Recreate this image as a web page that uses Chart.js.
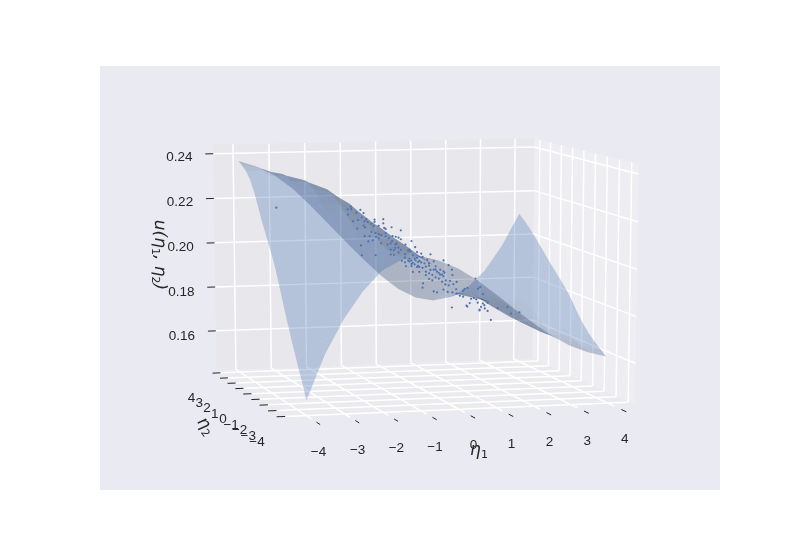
<!DOCTYPE html>
<html lang="en">
<head>
<meta charset="UTF-8">
<title>u surface</title>
<style>body{margin:0;background:#fff}</style>
</head>
<body>
<canvas id="mycanvas" width="800" height="550"></canvas>
<script src="https://cdn.jsdelivr.net/npm/chart.js"></script>
<script>
const eta1Ticks=[-4,-3,-2,-1,0,1,2,3,4];
const eta2Ticks=[-4,-3,-2,-1,0,1,2,3,4];
const uTicks=[0.16,0.18,0.20,0.22,0.24];

// surface, u*10000, one row per eta2 value
const surfaceEta1=[-3.95,-3.453,-2.956,-2.459,-1.963,-1.466,-0.969,-0.472,0.025,0.522,1.019,1.516,2.013,2.509,3.006,3.503,4];
const surfaceEta2=[-3.8,-3.306,-2.813,-2.319,-1.825,-1.331,-0.838,-0.344,0.15,0.644,1.138,1.631,2.125,2.619,3.113,3.606,4.1];
const row0=[1478,1672,1818,1930,2013,2055,2063,2047,2012,1961,1900,1835,1772,1715,1670,1638,1617];
const row1=[1548,1727,1859,1959,2031,2064,2064,2043,2004,1950,1889,1825,1766,1714,1675,1651,1638];
const row2=[1611,1775,1895,1983,2044,2067,2061,2035,1992,1937,1876,1814,1759,1712,1679,1663,1660];
const row3=[1677,1826,1933,2009,2059,2074,2061,2030,1984,1927,1865,1806,1754,1713,1686,1678,1685];
const row4=[1747,1881,1976,2041,2080,2086,2066,2030,1980,1922,1861,1804,1756,1720,1700,1700,1716];
const row5=[1820,1941,2024,2077,2106,2104,2078,2036,1983,1923,1863,1808,1764,1734,1721,1730,1755];
const row6=[1897,2004,2075,2119,2138,2127,2094,2047,1990,1928,1868,1815,1776,1751,1745,1762,1798];
const row7=[1970,2064,2125,2160,2169,2151,2110,2056,1994,1929,1869,1819,1783,1764,1765,1790,1836];
const row8=[2032,2114,2166,2193,2195,2168,2120,2059,1991,1923,1863,1815,1783,1770,1778,1812,1868];
const row9=[2084,2155,2200,2220,2216,2182,2126,2057,1983,1912,1851,1806,1779,1772,1788,1831,1898];
const row10=[2138,2197,2235,2249,2237,2196,2132,2055,1976,1902,1841,1798,1776,1775,1798,1851,1928];
const row11=[2199,2245,2272,2277,2257,2207,2136,2054,1970,1894,1834,1794,1776,1781,1811,1874,1960];
const row12=[2259,2291,2305,2297,2266,2208,2132,2047,1961,1885,1826,1789,1776,1787,1825,1896,1993];
const row13=[2307,2323,2322,2300,2256,2190,2111,2026,1942,1868,1812,1779,1772,1789,1835,1916,2024];
const row14=[2338,2339,2323,2286,2230,2157,2076,1993,1912,1841,1790,1763,1762,1787,1842,1933,2053];
const row15=[2357,2344,2314,2264,2197,2119,2036,1954,1876,1809,1763,1741,1747,1781,1845,1948,2080];
const row16=[2371,2345,2304,2243,2166,2081,1997,1915,1838,1774,1732,1716,1729,1770,1845,1958,2103];
const surfaceRows=[row0,row1,row2,row3,row4,row5,row6,row7,row8,row9,row10,row11,row12,row13,row14,row15,row16];

// scatter of samples
const cloudEta1=[-1.54,-1.47,-1.46,-1.26,-1.35,-1.19,-1.53,-1.42,-1.31,-1.17,-1.10,-.95,-.76,-.95,-.76,-.97,-.86,-1.33,-1.19,-1.16,-1.02,-.93,-.86,-.71,-.58,-.38,-.81,-1.17,-.99,-.92,-.71,-.86,-.49,-.43,-.38,-.56,-1.09,-.15,-.28,-.60,-.50,-.07,-1.25,-.60,-.43,-.53,-.38,-.19,-.17,-.29,-.60,-.53,-.93,-1.23,.06,.26,.09,-.12,-.03,-.19,.19,.02,.23,.33,.54,-.19,-.12,-.01,.06,-.27,-.15,-.03,.09,.23,.37,.47,.54,.65,.72,-.12,.02,.16,.23,.30,.37,.44,.54,.59,.73,.23,.10,.09,.58,.65,.75,.81,.54,.33,.40,.63,.73,.82,.89,.96,.99,1.05,.96,1.22,1.32,1.28,1.38,1.19,1.24,1.03,1.10,1.27,1.38,1.48,1.41,1.34,.72,1.05,1.31,1.42,1.69,1.90,2.15,1.55,1.97,1.13,.51,.33,.44,.26,-.08,-.15,.13,-.01,-.29,.16,-.36,-.15,-.06,-.03,-.22,-.43,-.50,-.67,-.81,-1.06,-.71,-.57,-.64,1.31,1.48,-3.13,.37,.47,.40,.56,.30,.16,.02,-.08,-.22,-.29,-.47,-.74,-1.02,-1.13,-1.23,.51,.68,.82];
const cloudEta2=[1.54,1.47,1.46,1.26,1.35,1.19,1.53,1.42,1.31,1.17,1.10,.95,.76,.95,.76,.97,.86,1.33,1.19,1.16,1.02,.93,.86,.71,.58,.38,.81,1.17,.99,.92,.71,.86,.49,.43,.38,.56,1.09,.15,.28,.60,.50,.07,1.25,.60,.43,.53,.38,.19,.17,.29,.60,.53,.93,1.23,-.06,-.26,-.09,.12,.03,.19,-.19,-.02,-.23,-.33,-.54,.19,.12,.01,-.06,.27,.15,.03,-.09,-.23,-.37,-.47,-.54,-.65,-.72,.12,-.02,-.16,-.23,-.30,-.37,-.44,-.54,-.59,-.73,-.23,-.10,-.09,-.58,-.65,-.75,-.81,-.54,-.33,-.40,-.63,-.73,-.82,-.89,-.96,-.99,-1.05,-.96,-1.22,-1.32,-1.28,-1.38,-1.19,-1.24,-1.03,-1.10,-1.27,-1.38,-1.48,-1.41,-1.34,-.72,-1.05,-1.31,-1.42,-1.69,-1.90,-2.15,-1.55,-1.97,-1.13,-.51,-.33,-.44,-.26,.08,.15,-.13,.01,.29,-.16,.36,.15,.06,.03,.22,.43,.50,.67,.81,1.06,.71,.57,.64,-1.31,-1.48,3.13,-.37,-.47,-.40,-.56,-.30,-.16,-.02,.08,.22,.29,.47,.74,1.02,1.13,1.23,-.51,-.68,-.82];
const cloudU=[.2184,.2197,.2186,.2185,.2172,.2172,.2161,.2133,.2140,.2136,.2134,.2146,.2150,.2136,.2132,.2118,.2120,.2102,.2117,.2110,.2091,.2088,.2084,.2108,.2117,.2106,.2080,.2071,.2055,.2071,.2075,.2065,.2076,.2073,.2067,.2078,.2049,.2062,.2045,.2046,.2043,.2036,.2029,.2019,.2030,.2018,.2021,.2024,.2016,.2003,.1997,.1996,.1990,.1986,.2010,.2009,.1996,.2000,.1990,.1984,.1984,.1977,.1970,.1979,.1986,.1972,.1967,.1972,.1971,.1950,.1952,.1950,.1948,.1959,.1958,.1945,.1939,.1967,.1948,.1927,.1929,.1932,.1926,.1920,.1910,.1905,.1917,.1900,.1925,.1901,.1880,.1861,.1882,.1879,.1885,.1864,.1859,.1848,.1845,.1850,.1849,.1846,.1837,.1834,.1868,.1873,.1860,.1916,.1881,.1873,.1851,.1831,.1826,.1796,.1808,.1812,.1810,.1815,.1803,.1795,.1783,.1792,.1783,.1789,.1794,.1802,.1783,.1741,.1775,.1827,.1924,.1943,.1930,.1941,.1985,.1977,.1968,.1955,.1967,.1954,.1973,.1962,.1978,.2015,.2019,.2008,.2028,.2040,.2044,.2072,.2090,.2056,.2069,.1779,.1779,.2174,.1944,.1923,.1935,.1933,.1896,.1917,.1951,.1961,.1975,.1988,.2047,.2112,.2127,.2146,.2152,.1893,.1899,.1896];

// axis limits and camera
const L=4.55,zMin=0.142,zMax=0.244;
const D=10,kx=3476.7,cx=418.6,ky=-2396.8,cy=271.6;
const el=9.5*Math.PI/180,az=-105*Math.PI/180;
const n=[Math.cos(el)*Math.cos(az),Math.cos(el)*Math.sin(az),Math.sin(el)];
const r=[-Math.sin(az),Math.cos(az),0];
const up=[-Math.sin(el)*Math.cos(az),-Math.sin(el)*Math.sin(az),Math.cos(el)];

function box(e1,e2,u){return [(e1+L)/(2*L)-.5,(e2+L)/(2*L)-.5,(u-zMin)/(zMax-zMin)-.5];}
function dot(a,b){return a[0]*b[0]+a[1]*b[1]+a[2]*b[2];}
function depth(e1,e2,u){return D-dot(box(e1,e2,u),n);}
function project(e1,e2,u){
    const q=box(e1,e2,u),d=D-dot(q,n);
    return {x:kx*dot(q,r)/d+cx,y:ky*dot(q,up)/d+cy};
}

const datasets=[];
function addShape(corners,color){
    datasets.push({data:corners.map(c=>project(c[0],c[1],c[2])),showLine:true,fill:'shape',backgroundColor:color,borderWidth:0,pointRadius:0,borderColor:'transparent'});
}
function addLine(a,b,color,width){
    datasets.push({data:[project(a[0],a[1],a[2]),project(b[0],b[1],b[2])],showLine:true,borderColor:color,borderWidth:width,pointRadius:0,fill:false});
}

// panes
addShape([[L,-L,zMin],[L,L,zMin],[L,L,zMax],[L,-L,zMax]],'rgba(242,242,242,.5)');
addShape([[-L,L,zMin],[L,L,zMin],[L,L,zMax],[-L,L,zMax]],'rgba(230,230,230,.5)');
addShape([[-L,-L,zMin],[L,-L,zMin],[L,L,zMin],[-L,L,zMin]],'rgba(236,236,236,.5)');

// grid
const gw=1.5;
eta1Ticks.forEach(v=>{addLine([v,-L,zMin],[v,L,zMin],'#fff',gw);addLine([v,L,zMin],[v,L,zMax],'#fff',gw);});
eta2Ticks.forEach(v=>{addLine([-L,v,zMin],[L,v,zMin],'#fff',gw);addLine([L,v,zMin],[L,v,zMax],'#fff',gw);});
uTicks.forEach(v=>{addLine([-L,L,v],[L,L,v],'#fff',gw);addLine([L,L,v],[L,-L,v],'#fff',gw);});

// tick marks
eta1Ticks.forEach(v=>addLine([v,-L-.55,zMin],[v,-L-.95,zMin],'#262626',1));
eta2Ticks.forEach(v=>addLine([-L,v,zMin],[-L-.22,v,zMin],'#262626',1));
uTicks.forEach(v=>addLine([-L,L,v],[-L-.22,L,v],'#262626',1));

// surface cells, far ones first, shaded by how much they face the light
const cells=[];
for(let j=0;j<surfaceEta2.length-1;j++){
    for(let i=0;i<surfaceEta1.length-1;i++){
        const a=surfaceEta1[i],b=surfaceEta1[i+1],c=surfaceEta2[j],e=surfaceEta2[j+1];
        const u00=surfaceRows[j][i]/10000,u10=surfaceRows[j][i+1]/10000,u01=surfaceRows[j+1][i]/10000,u11=surfaceRows[j+1][i+1]/10000;
        const s=zMax-zMin;
        const dzx=((u10+u11-u00-u01)/2)/s/((b-a)/(2*L)),dzy=((u01+u11-u00-u10)/2)/s/((e-c)/(2*L));
        const lit=(.667*dzx+.667*dzy+.333)/Math.hypot(dzx,dzy,1);
        cells.push({corners:[[a,c,u00],[b,c,u10],[b,e,u11],[a,e,u01],[a,c,u00]],far:depth((a+b)/2,(c+e)/2,(u00+u10+u01+u11)/4),lit});
    }
}
cells.sort((p,q)=>q.far-p.far);
cells.forEach(c=>{
    const t=Math.max(0,Math.min(1,(c.lit-.05)/.55));
    addShape(c.corners,`rgba(${32+27*t},${59+47*t},${104+70*t},.3)`);
});

datasets.push({data:cloudEta1.map((v,i)=>project(v,cloudEta2[i],cloudU[i])),pointRadius:1.1,pointBackgroundColor:'#4C72B0',pointBorderWidth:0,showLine:false});
datasets.forEach((d,i)=>{d.order=-i;}); // later ones on top

function label(ctx,text,x,y){
    ctx.save();ctx.font='13.5px "Liberation Sans"';ctx.textAlign='center';ctx.textBaseline='middle';ctx.fillStyle='#262626';ctx.fillText(text,x,y);ctx.restore();
}
function math(ctx,parts,x,y,rot){
    ctx.save();ctx.translate(x,y);ctx.rotate(rot);ctx.textBaseline='alphabetic';ctx.fillStyle='#262626';
    let w=0;
    parts.forEach(p=>{ctx.font=p[1];w+=ctx.measureText(p[0]).width;});
    let pos=-w/2;
    parts.forEach(p=>{ctx.font=p[1];ctx.fillText(p[0],pos,p[2]);pos+=ctx.measureText(p[0]).width;});
    ctx.restore();
}
const figurePlugin={id:'figure',
    beforeDraw(chart){const c=chart.ctx;c.fillStyle='#EAEAF2';c.fillRect(100,66,620,424);},
    afterDraw(chart){
        const c=chart.ctx;
        eta1Ticks.forEach(v=>{const p=project(v,-L,zMin);label(c,String(v).replace('-','\u2212'),p.x+8,p.y+31);});
        eta2Ticks.forEach(v=>{const p=project(-L,v,zMin);label(c,String(v).replace('-','\u2212'),p.x-27,p.y+24);});
        uTicks.forEach(v=>{const p=project(-L,L,v);label(c,v.toFixed(2),p.x-32,p.y+5);});
        const it='italic 17px "DejaVu Sans"',sb='11px "DejaVu Sans"';
        math(c,[['\u03b7',it,5],['1',sb,8]],479,450,0);
        math(c,[['\u03b7',it,5],['2',sb,8]],206,426,.95);
        math(c,[['u(',it,5],['\u03b7',it,5],['1',sb,8],[', ',it,5],['\u03b7',it,5],['2',sb,8],[')',it,5]],160,255,1.57);
    }};

new Chart(document.getElementById('mycanvas'),{type:'scatter',data:{datasets},plugins:[figurePlugin],
    options:{responsive:false,animation:false,layout:{padding:0},plugins:{legend:{display:false},tooltip:{enabled:false}},
    scales:{x:{type:'linear',min:0,max:800,display:false},y:{type:'linear',min:0,max:550,reverse:true,display:false}}}});
</script>
</body>
</html>
